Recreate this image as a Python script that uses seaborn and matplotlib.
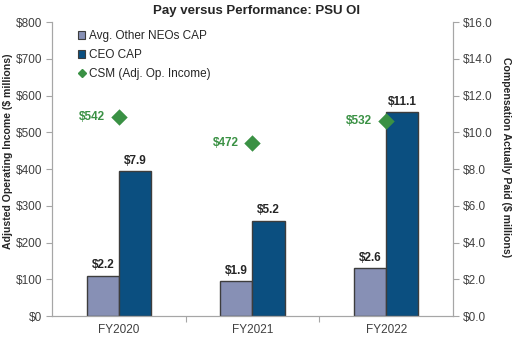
import matplotlib
matplotlib.use("Agg")
import matplotlib.pyplot as plt
import seaborn as sns
import pandas as pd
from matplotlib.lines import Line2D
from matplotlib.patches import Patch

years = ["FY2020", "FY2021", "FY2022"]
avg_neo_cap = [2.2, 1.9, 2.6]
ceo_cap = [7.9, 5.2, 11.1]
csm_oi = [542, 472, 532]
left_ticks = [0, 100, 200, 300, 400, 500, 600, 700, 800]
right_ticks = [0, 2, 4, 6, 8, 10, 12, 14, 16]

c_avg = "#8790B5"
c_ceo = "#0B4F80"
c_grn = "#3A9144"
c_edge = "#3d3d3d"
c_spine = "#a6a6a6"
c_text = "#262626"
c_tick = "#404040"

sns.set_theme(style="white")
plt.rcParams["font.family"] = ["Liberation Sans", "DejaVu Sans"]

df = pd.DataFrame({
    "year": years * 2,
    "series": ["Avg. Other NEOs CAP"] * 3 + ["CEO CAP"] * 3,
    "value": avg_neo_cap + ceo_cap,
})
df_oi = pd.DataFrame({"year": years, "oi": csm_oi})

fig = plt.figure(figsize=(5.23, 3.5), dpi=100)
ax = fig.add_axes([0.0994, 0.097, 0.7667, 0.84])
sns.barplot(data=df, x="year", y="value", hue="series", order=years,
            hue_order=["Avg. Other NEOs CAP", "CEO CAP"],
            palette=[c_avg, c_ceo], width=0.48, edgecolor=c_edge,
            linewidth=1.0, saturation=1, ax=ax, legend=False)
ax.set_ylim(0, 16)
ax.set_xlim(-0.5, 2.5)
for cont in ax.containers:
    ax.bar_label(cont, labels=[f"${v:.1f}" for v in cont.datavalues],
                 padding=3, fontsize=8.5, fontweight="bold", color=c_text)

ax2 = ax.twinx()
sns.scatterplot(data=df_oi, x="year", y="oi", marker="D", s=70,
                color=c_grn, edgecolor=c_grn, linewidth=0, ax=ax2, zorder=5)
ax2.set_ylim(0, 800)
for i, v in enumerate(csm_oi):
    ax2.annotate(f"${v}", (i, v), xytext=(-10, 0), textcoords="offset points",
                 ha="right", va="center", fontsize=8.5, fontweight="bold",
                 color=c_grn)

# bars axis on the right, OI axis on the left
ax.yaxis.tick_right()
ax.yaxis.set_label_position("right")
ax2.yaxis.tick_left()
ax2.yaxis.set_label_position("left")

ax.set_yticks(right_ticks)
ax.set_yticklabels([f"${t:.1f}" for t in right_ticks])
ax2.set_yticks(left_ticks)
ax2.set_yticklabels([f"${t}" for t in left_ticks])

ax.set_ylabel("Compensation Actually Paid ($ millions)", rotation=270,
              fontsize=7.6, fontweight="bold", color=c_text, va="center")
ax2.set_ylabel("Adjusted Operating Income ($ millions)", fontsize=7.6,
               fontweight="bold", color=c_text, va="center")
ax.yaxis.set_label_coords(1.133, 0.54)
ax2.yaxis.set_label_coords(-0.11, 0.56)
ax.set_xlabel("")
ax2.set_xlabel("")

for a in (ax, ax2):
    a.spines["top"].set_visible(False)
    for side in ("left", "right", "bottom"):
        a.spines[side].set_color(c_spine)
        a.spines[side].set_linewidth(0.8)
    a.tick_params(axis="y", which="major", length=4, width=0.8,
                  color=c_spine, labelsize=8.5, labelcolor=c_tick, pad=3)

ax.set_xticks([0, 1, 2])
ax.set_xticklabels(years)
ax.set_xticks([0.5, 1.5], minor=True)
ax.tick_params(axis="x", which="major", length=0, labelsize=8.5,
               labelcolor=c_tick, pad=6)
ax.tick_params(axis="x", which="minor", length=4, width=0.8, color=c_spine,
               bottom=True)
ax2.tick_params(axis="x", which="both", length=0)

fig.suptitle("Pay versus Performance: PSU OI", x=0.49, y=0.985,
             fontsize=9.5, fontweight="bold", color=c_text)

handles = [
    Patch(facecolor=c_avg, edgecolor=c_edge, linewidth=0.8),
    Patch(facecolor=c_ceo, edgecolor=c_edge, linewidth=0.8),
    Line2D([0], [0], marker="D", color="none", markerfacecolor=c_grn,
           markeredgecolor=c_grn, markersize=4),
]
labels = ["Avg. Other NEOs CAP", "CEO CAP", "CSM (Adj. Op. Income)"]
ax2.legend(handles, labels, loc="upper left", bbox_to_anchor=(0.045, 1.0),
           frameon=False, fontsize=8.5, handlelength=0.65, handleheight=0.65,
           handletextpad=0.3, labelspacing=0.6, borderaxespad=0.25,
           labelcolor=c_text)

fig.savefig("out.png", dpi=100)
